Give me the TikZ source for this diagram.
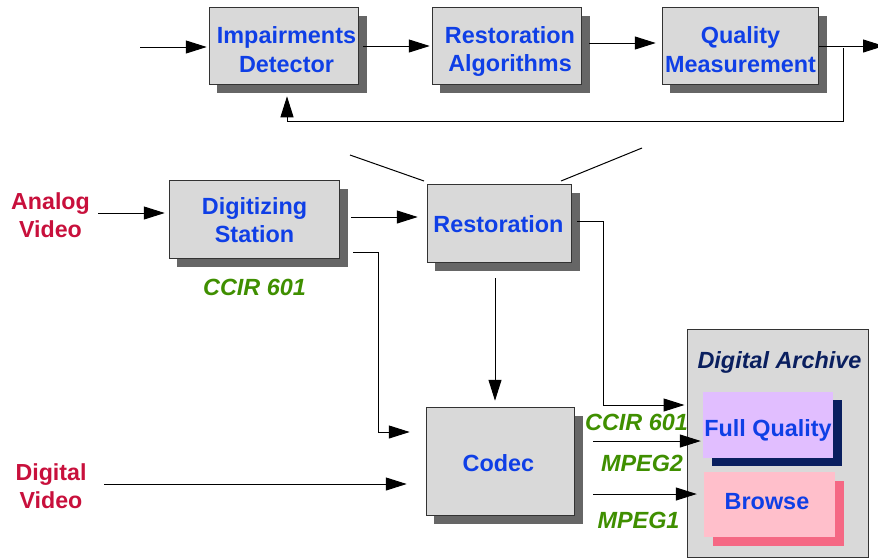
\documentclass[tikz,border=0pt]{standalone}
\usepackage{fontspec}
\setmainfont{Liberation Sans}
\usetikzlibrary{arrows.meta,shadows,calc}
\definecolor{boxgray}{HTML}{D9D9D9}
\definecolor{shadowgray}{HTML}{666666}
\definecolor{txtblue}{HTML}{0F3FE6}
\definecolor{txtred}{HTML}{C8103C}
\definecolor{txtgreen}{HTML}{3F8F00}
\definecolor{txtnavy}{HTML}{0A1F5F}
\definecolor{lilac}{HTML}{E1BEFF}
\definecolor{pinkbox}{HTML}{FFBFCB}
\definecolor{pinkshadow}{HTML}{F56884}
\newcommand\padH[1]{\vrule width 0pt height #1pt\relax}
\newcommand\padD[1]{\vrule width 0pt depth #1pt\relax}
\newcommand\nudgeL[1]{\leavevmode\kern#1pt\relax}
\tikzset{
  blockbox/.style={draw=black!80,line width=1pt,fill=boxgray,inner sep=0pt,
    text=txtblue,align=center,font=\fontsize{23.4}{28.5}\selectfont\bfseries,
    copy shadow={draw=none,fill=shadowgray,shadow xshift=8pt,shadow yshift=-8.5pt}},
  innerbox/.style={inner sep=0pt,text=txtblue,align=center,font=\fontsize{23.4}{28}\selectfont\bfseries},
  redlabel/.style={text=txtred,align=center,font=\fontsize{23.2}{28}\selectfont\bfseries},
  greenlabel/.style={text=txtgreen,font=\fontsize{23.4}{28}\selectfont\bfseries\itshape},
  arr/.style={draw=black,line width=1pt,-{Triangle[length=21pt,width=13pt]}},
  plainline/.style={draw=black,line width=1pt},
}
\begin{document}
\begin{tikzpicture}[x=1pt,y=-1pt]
\useasboundingbox[fill=white] (0,0) rectangle (878,558);
% top row
\node[blockbox,minimum width=149.5pt,minimum height=77.5pt] (imp) at (284,46) {\nudgeL{5}\padH{24}Impairments\\\nudgeL{5}Detector};
\node[blockbox,minimum width=149.5pt,minimum height=77.5pt] (alg) at (507,46) {\nudgeL{6}\padH{28}Restoration\\\nudgeL{6}Algorithms};
\node[blockbox,minimum width=156.5pt,minimum height=77.5pt] (qual) at (740.5,46) {\padH{24}Quality\\Measurement};
% middle row
\node[blockbox,minimum width=170.5pt,minimum height=78.5pt] (dig) at (254.5,219.5) {\padH{18}Digitizing\\Station};
\node[blockbox,minimum width=144.5pt,minimum height=78.5pt] (rest) at (499.5,223.5) {\padH{19}Restoration\kern2pt};
\node[blockbox,minimum width=148.5pt,minimum height=108.5pt] (codec) at (500.5,461.5) {\padH{21}Codec\kern4pt};
% archive
\node[draw=black!80,line width=1pt,fill=boxgray,minimum width=181pt,minimum height=228pt,inner sep=0pt] (arch) at (777.5,443) {};
\node[text=txtnavy,font=\fontsize{23.4}{27}\selectfont\bfseries\itshape,inner sep=0pt] (archt) at (779.5,362) {Digital Archive};
\node[innerbox,fill=lilac,minimum width=130pt,minimum height=66pt,
  copy shadow={draw=none,fill=txtnavy,shadow xshift=9pt,shadow yshift=-8pt}] (full) at (768,425) {\padH{27}Full Quality};
\node[innerbox,fill=pinkbox,minimum width=131pt,minimum height=65pt,
  copy shadow={draw=none,fill=pinkshadow,shadow xshift=9pt,shadow yshift=-9pt}] (brow) at (769.5,504.5) {\padD{6}Browse\kern5pt};
% labels
\node[redlabel] (analog) at (50.5,215) {Analog\\Video};
\node[redlabel] (digital) at (51,486) {Digital\\Video};
\node[greenlabel] (ccira) at (254.5,287) {CCIR 601};
\node[greenlabel] (ccirb) at (636.5,422) {CCIR 601};
\node[greenlabel] (mpega) at (642,463) {MPEG2};
\node[greenlabel] (mpegb) at (638.5,520) {MPEG1};
% free ends and bends
\coordinate (inA) at (140,47);
\coordinate (outQ) at (884,46);
\coordinate (tapQ) at (843,48);
\coordinate (fbc) at (843,121);
\coordinate (lineLa) at (350,155);
\coordinate (lineLb) at (424,181);
\coordinate (lineRa) at (561,181);
\coordinate (lineRb) at (642,148);
\coordinate (inAnalog) at (98,213);
\coordinate (inDigital) at (104,484);
\coordinate (bendD) at (378,432);
\coordinate (bendR) at (603,405);
% connectors
\draw[arr] (inA) -- ([xshift=-2pt,yshift=-1pt]imp.west);
\draw[arr] ([xshift=4pt]imp.east) -- ([xshift=-2pt]alg.west);
\draw[arr] ([xshift=7pt,yshift=3pt]alg.east) -- ([xshift=-6pt,yshift=3pt]qual.west);
\draw[arr] (qual.east) -- (outQ);
\draw[arr] (tapQ) -- (fbc) -| ([xshift=3pt,yshift=-11pt]imp.south);
\draw[plainline] (lineLa) -- (lineLb);
\draw[plainline] (lineRa) -- (lineRb);
\draw[arr] (inAnalog) -- ([xshift=-4pt,yshift=6.5pt]dig.west);
\draw[arr] ([xshift=11pt,yshift=2.5pt]dig.east) -- ([xshift=-9pt,yshift=6.5pt]rest.west);
\draw[arr] ([xshift=13pt,yshift=-32.5pt]dig.east) -| (bendD) -- ([xshift=-16pt,yshift=29.5pt]codec.west);
\draw[arr] ([xshift=5pt,yshift=2.5pt]rest.east) -| (bendR) -- ([xshift=-2pt,yshift=38pt]arch.west);
\draw[arr] ([xshift=-4.5pt,yshift=-15pt]rest.south) -- ([xshift=-5.5pt,yshift=6pt]codec.north);
\draw[arr] (inDigital) -- ([xshift=-19pt,yshift=-22.5pt]codec.west);
\draw[arr] ([xshift=18pt,yshift=20.5pt]codec.east) -- ([xshift=-2pt,yshift=-16pt]full.west);
\draw[arr] ([xshift=18pt,yshift=-32.5pt]codec.east) -- ([xshift=-7pt,yshift=10.5pt]brow.west);
\end{tikzpicture}
\end{document}
